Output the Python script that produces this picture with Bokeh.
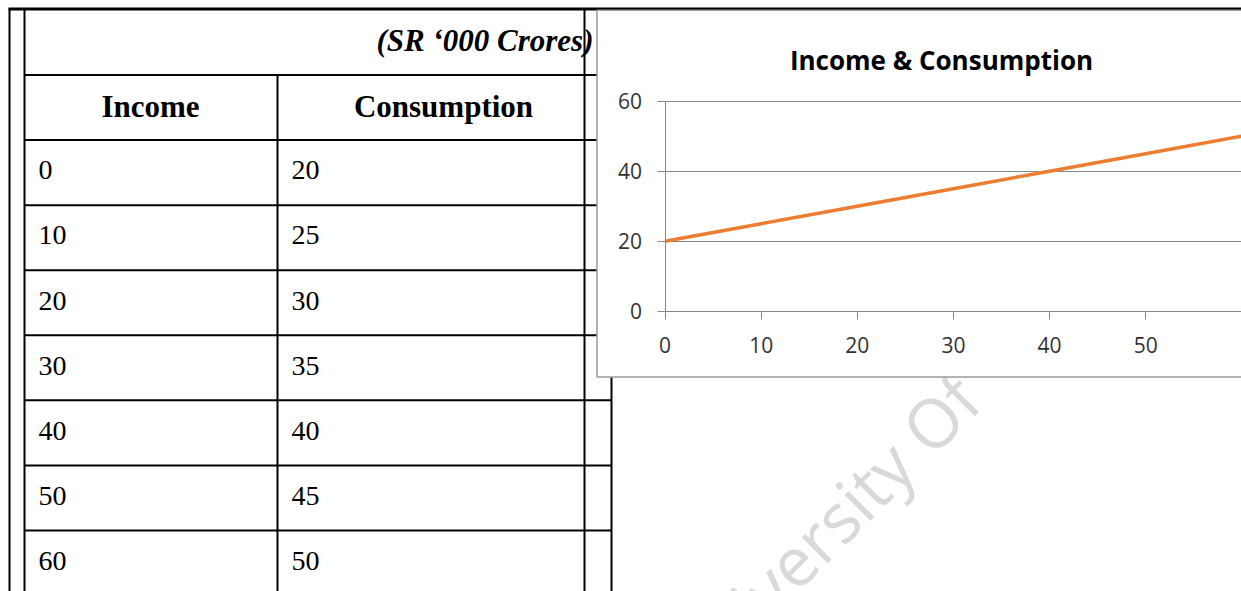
from bokeh.plotting import figure
from bokeh.models import Range1d, LinearAxis, FixedTicker, Grid
from bokeh.core.properties import value
from bokeh.embed import file_html
from bokeh.resources import INLINE

# ---------------- data ----------------
income = [0, 10, 20, 30, 40, 50, 60]
consumption = [20, 25, 30, 35, 40, 45, 50]
col_headers = ["Income", "Consumption"]
unit_note = "(SR \u2018000 Crores)"
chart_title = "Income & Consumption"
x_ticks = [0, 10, 20, 30, 40, 50, 60]
y_ticks = [0, 20, 40, 60]
watermark = "University Of"

# ---------------- layout (page pixels) ----------------
W, H = 1241, 591
OFF = 0
X0_PX, X60_PX = 664.5, 1241.3      # page x of income 0 / 60
Y0_PX, Y60_PX = 310.7, 100.7       # page y of value 0 / 60
sx = (X60_PX - X0_PX) / 60.0
sy = (Y0_PX - Y60_PX) / 60.0
x_start = (OFF - X0_PX) / sx
x_end = (OFF + W - X0_PX) / sx
y_end = (Y0_PX - OFF) / sy
y_start = (Y0_PX - (OFF + H)) / sy

p = figure(width=W, height=H, title=None,
           x_range=Range1d(x_start, x_end), y_range=Range1d(y_start, y_end),
           x_axis_location=None, y_axis_location=None,
           output_backend="svg", toolbar_location=None, min_border=0,
           outline_line_color=None, background_fill_color="white",
           border_fill_color="white")
p.center = [r for r in p.center if not isinstance(r, Grid)]
p.extra_x_ranges = {"px": Range1d(OFF, OFF + W)}
p.extra_y_ranges = {"px": Range1d(OFF + H, OFF)}
PX = dict(x_range_name="px", y_range_name="px", level="image")

# ---------------- table ----------------
ROW0, ROW_H = 74.5, 65.07
row_lines = [ROW0 + ROW_H * k for k in range(len(income) + 1)]
BOT = 600
vx = [9, 24, 277, 584, 611]
vy0 = [8, 8, ROW0, 8, 8]
p.segment(x0=vx, y0=vy0, x1=vx, y1=[BOT] * len(vx), line_color="black",
          line_width=2, **PX)
p.segment(x0=[24] * len(row_lines), y0=row_lines, x1=[611] * len(row_lines),
          y1=row_lines, line_color="black", line_width=2, **PX)
p.segment(x0=[8], y0=[8.5], x1=[1250], y1=[8.5], line_color="black",
          line_width=3, **PX)

serif = value("Liberation Serif")
p.text(x=[593], y=[40], text=[unit_note], text_font=serif,
       text_font_size="31px", text_font_style="bold italic",
       text_align="right", text_baseline="alphabetic", text_color="black", **PX)
p.text(x=[150, 443], y=[106, 106], text=col_headers, text_font=serif,
       text_font_size="31px", text_font_style="bold", text_align="center",
       text_baseline="alphabetic", text_color="black", **PX)
data_y = [row_lines[j + 1] + 30.3 for j in range(len(income))]
p.text(x=[38] * len(income), y=data_y, text=[str(v) for v in income],
       text_font=serif, text_font_size="28px", text_align="left",
       text_baseline="alphabetic", text_color="black", **PX)
p.text(x=[291] * len(consumption), y=data_y, text=[str(v) for v in consumption],
       text_font=serif, text_font_size="28px", text_align="left",
       text_baseline="alphabetic", text_color="black", **PX)

# ---------------- watermark ----------------
p.text(x=[676.6], y=[675.7], text=[watermark], angle=0.785,
       text_font=value("Open Sans"), text_font_size="68px",
       text_color="#d9d9d9", text_align="left", text_baseline="alphabetic", **PX)

# ---------------- chart box ----------------
p.quad(left=[596.5], right=[1260], top=[9.8], bottom=[376.5],
       fill_color="white", line_color="#9a9a9a", line_width=1.5, **PX)
p.text(x=[941], y=[59], text=[chart_title], text_font=value("Open Sans"),
       text_font_size="26px", text_font_style="bold", text_align="center",
       text_baseline="alphabetic", text_color="black",
       x_range_name="px", y_range_name="px")

# ---------------- chart ----------------
try:
    ygrid = Grid(dimension=1, ticker=FixedTicker(ticks=y_ticks),
                 grid_line_color="#868686", grid_line_width=1,
                 cross_bounds=(0, 60))
    p.add_layout(ygrid)
except AttributeError:
    p.segment(x0=[0] * len(y_ticks), y0=y_ticks, x1=[60] * len(y_ticks),
              y1=y_ticks, line_color="#868686", line_width=1, level="underlay")

p.line(income, consumption, line_color="#ED7D31", line_width=3.5)

tick_font = "Open Sans"
xaxis = LinearAxis(fixed_location=0, bounds=(0, 60),
                   ticker=FixedTicker(ticks=x_ticks),
                   axis_line_color="#868686", major_tick_line_color="#868686",
                   major_tick_out=8, major_tick_in=0, minor_tick_line_color=None,
                   major_label_text_font=tick_font,
                   major_label_text_font_size="21px",
                   major_label_text_color="#333333", major_label_standoff=18)
p.add_layout(xaxis, "below")
yaxis = LinearAxis(fixed_location=0, bounds=(0, 60),
                   ticker=FixedTicker(ticks=y_ticks),
                   axis_line_color="#868686", major_tick_line_color="#868686",
                   major_tick_out=8, major_tick_in=0, minor_tick_line_color=None,
                   major_label_text_font=tick_font,
                   major_label_text_font_size="21px",
                   major_label_text_color="#333333", major_label_standoff=15)
p.add_layout(yaxis, "left")

open("out.html", "w").write(file_html(p, INLINE))
